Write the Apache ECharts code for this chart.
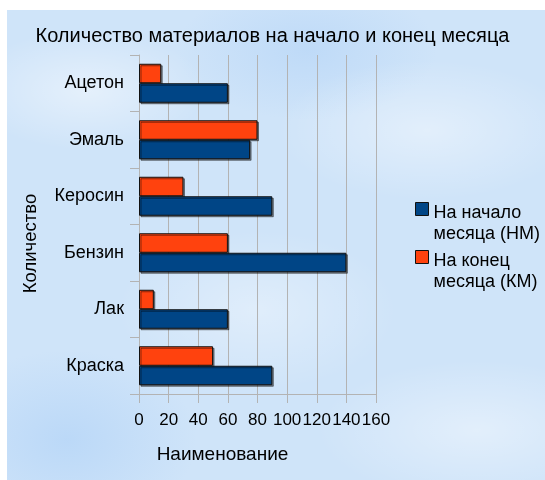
<!DOCTYPE html>
<html>
<head>
<meta charset="utf-8">
<script src="https://cdn.jsdelivr.net/npm/echarts@6/dist/echarts.min.js"></script>
<style>
html,body{margin:0;padding:0;background:#fff;}
#bg{position:absolute;left:7px;top:10px;width:538px;height:470px;
background:
radial-gradient(ellipse 120px 60px at 80px 80px, rgba(255,255,255,0.45), rgba(255,255,255,0)),
radial-gradient(ellipse 150px 70px at 420px 120px, rgba(255,255,255,0.4), rgba(255,255,255,0)),
radial-gradient(ellipse 140px 80px at 250px 300px, rgba(255,255,255,0.35), rgba(255,255,255,0)),
radial-gradient(ellipse 160px 70px at 470px 420px, rgba(255,255,255,0.4), rgba(255,255,255,0)),
radial-gradient(ellipse 130px 90px at 60px 430px, rgba(150,195,245,0.35), rgba(150,195,245,0)),
radial-gradient(ellipse 130px 70px at 300px 40px, rgba(160,200,245,0.35), rgba(160,200,245,0)),
#cfe4f9;}
#chart{position:absolute;left:0;top:0;width:545px;height:480px;}
</style>
</head>
<body>
<div id="bg"></div>
<div id="chart"></div>
<script>
const categories = ['Краска', 'Лак', 'Бензин', 'Керосин', 'Эмаль', 'Ацетон'];
const startValues = [90, 60, 140, 90, 75, 60];
const endValues = [50, 10, 60, 30, 80, 15];
const xTicks = [0, 20, 40, 60, 80, 100, 120, 140, 160];
const seriesNames = ['На начало\nмесяца (НМ)', 'На конец\nмесяца (КМ)'];

const font = '"Liberation Sans", Arial, sans-serif';
const chart = echarts.init(document.getElementById('chart'), null, {renderer: 'canvas'});
const barStyle = (c) => ({
  color: c, borderColor: '#111', borderWidth: 1,
  shadowColor: 'rgba(0,0,0,0.45)', shadowOffsetX: 1.5, shadowOffsetY: 1.5, shadowBlur: 0
});
const legendIcon = 'path://M0,0L13,0L13,13L0,13Z M0,42';
chart.setOption({
  backgroundColor: 'transparent',
  animation: false,
  textStyle: {fontFamily: font},
  title: {
    text: 'Количество материалов на начало и конец месяца',
    left: 'center', top: 21,
    textStyle: {fontFamily: font, fontSize: 20, fontWeight: 'normal', color: '#000'}
  },
  legend: {
    orient: 'vertical', left: 410, top: 197,
    itemWidth: 13, itemHeight: 42, itemGap: 5,
    icon: legendIcon,
    textStyle: {fontFamily: font, fontSize: 18, color: '#000', lineHeight: 21.5},
    data: seriesNames.map((n) => ({name: n, icon: legendIcon, itemStyle: {borderColor: '#111', borderWidth: 1}}))
  },
  grid: {left: 139, right: 169, top: 55, bottom: 86, containLabel: false},
  xAxis: {
    type: 'value', min: xTicks[0], max: xTicks[xTicks.length - 1], interval: 20,
    name: 'Наименование', nameLocation: 'middle', nameGap: 51,
    nameTextStyle: {fontFamily: font, fontSize: 19, color: '#000', padding: [0, 70, 0, 0]},
    axisLine: {show: true, lineStyle: {color: '#b3b3b3'}},
    axisTick: {show: true, length: 9, lineStyle: {color: '#b3b3b3'}},
    axisLabel: {fontFamily: font, fontSize: 17, color: '#000', margin: 18,
      showMinLabel: true, showMaxLabel: true, hideOverlap: false},
    splitLine: {show: true, lineStyle: {color: '#b3b3b3'}}
  },
  yAxis: {
    type: 'category', data: categories,
    name: 'Количество', nameLocation: 'middle', nameGap: 99, nameRotate: 90,
    nameTextStyle: {fontFamily: font, fontSize: 18.5, color: '#000', padding: [0, 38, 0, 0]},
    axisLine: {show: true, lineStyle: {color: '#b3b3b3'}},
    axisTick: {show: true, length: 9, lineStyle: {color: '#b3b3b3'}},
    axisLabel: {fontFamily: font, fontSize: 18, color: '#000', margin: 15},
    splitLine: {show: false}
  },
  series: [
    {name: seriesNames[1], type: 'bar', data: endValues, barWidth: 19.5, barGap: '0%',
     itemStyle: barStyle('#ff420e')},
    {name: seriesNames[0], type: 'bar', data: startValues, barWidth: 19.5, barGap: '0%',
     itemStyle: barStyle('#004586')}
  ]
});
</script>
</body>
</html>
